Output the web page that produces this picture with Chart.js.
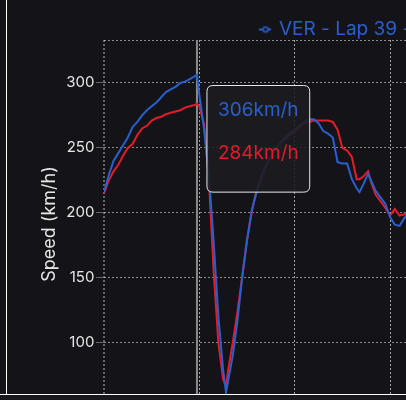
<!DOCTYPE html>
<html>
<head>
<meta charset="utf-8">
<script src="https://cdn.jsdelivr.net/npm/chart.js@4.4.1/dist/chart.umd.min.js"></script>
<style>
  html, body { margin: 0; padding: 0; background: #19181d; }
  #panel { position: absolute; left: 0; top: 0; width: 406px; height: 394px; overflow: hidden; background: #141318; }
  #box { position: absolute; left: 8px; top: 0; width: 945px; height: 443px; }
  #rule-v { position: absolute; left: 6px; top: 0; width: 1px; height: 394px; background: #fff; }
  #rule-h { position: absolute; left: 0; top: 394px; width: 406px; height: 1px; background: #fff; }
</style>
</head>
<body>
<div id="panel"><div id="box"><canvas id="speedChart"></canvas></div></div>
<div id="rule-v"></div>
<div id="rule-h"></div>
<script>
// distance along the lap (m) and speed traces (km/h)
const distance = [
  0, 5, 10, 15, 20, 25, 30, 35, 40, 45,
  50, 55, 60, 65, 70, 75, 80, 85, 90, 95,
  97.5, 100, 105, 110, 115, 120, 125, 128, 130, 135,
  140, 145, 150, 155, 160, 165, 170, 175, 180, 185,
  190, 195, 200, 205, 210, 215, 220, 225, 230, 235,
  240, 245, 250, 255, 260, 265, 268, 272, 277, 280,
  285, 290, 295, 300, 305, 310, 315, 320, 325, 330
];
const verSpeed = [
  216, 229, 240, 246, 252, 258, 266, 270, 275, 279,
  282, 285, 289, 293, 295, 297, 300, 301, 303, 305,
  306, 291, 264, 229, 178, 120, 79, 62, 70, 90,
  117, 151, 179, 202, 216, 228, 237, 243, 249, 254,
  258, 261, 264, 267, 270, 272, 272, 269, 263, 261,
  258, 239, 238, 238, 226, 219, 216, 222, 230, 225,
  217, 212, 207, 197, 191, 190, 196, 201, 205, 208
];
const lecSpeed = [
  215, 225, 232, 237, 244, 250, 253, 260, 265, 267,
  271, 273, 274, 276, 277, 278, 279, 281, 282, 283,
  284, 282, 268, 226, 155, 100, 72, 67, 78, 100,
  124, 151, 179, 201, 217, 227, 236, 243, 249, 254,
  257, 260, 263, 266, 269, 270, 271, 271, 271, 271,
  270, 264, 250, 248, 243, 226, 226, 228, 232, 224,
  214, 209, 204, 198, 203, 198, 199, 201, 203, 205
];
const speedTicks = [50, 100, 150, 200, 250, 300, 333];
const hoverDistance = 97.5;

const BLUE = '#2a5fce';
const RED = '#e51b2a';
const BG = '#141318';

Chart.defaults.font.family = 'Inter';
Chart.defaults.color = '#e6e6e6';

// little "-o-" marker for the legend
function marker(color) {
    var c = document.createElement('canvas');
    c.width = 12; c.height = 8;
    var g = c.getContext('2d');
    g.strokeStyle = color;
    g.lineWidth = 2;
    g.beginPath(); g.moveTo(0, 4); g.lineTo(12, 4); g.stroke();
    g.fillStyle = BG;
    g.lineWidth = 1.5;
    g.beginPath(); g.arc(7, 4, 2.5, 0, Math.PI * 2); g.fill(); g.stroke();
    return c;
}

Chart.Tooltip.positioners.pinned = function (items, pos) {
    if (!items.length) return false;
    return { x: items[0].element.x, y: pos.y };
};

// grey vertical line at the hovered sample
const hoverLine = {
    id: 'hoverLine',
    beforeDatasetsDraw(chart) {
        var act = chart.tooltip.getActiveElements();
        if (!act.length) return;
        var x = act[0].element.x;
        var ctx = chart.ctx;
        ctx.save();
        ctx.strokeStyle = '#8a8a8a';
        ctx.lineWidth = 2;
        ctx.beginPath();
        ctx.moveTo(x, chart.chartArea.top);
        ctx.lineTo(x, chart.chartArea.bottom);
        ctx.stroke();
        ctx.restore();
    }
};

const chart = new Chart(document.getElementById('speedChart'), {
    type: 'line',
    data: {
        labels: distance,
        datasets: [
            { label: 'VER - Lap 39 - 1:35.041', data: verSpeed, borderColor: BLUE, backgroundColor: BLUE },
            { label: 'LEC - Lap 39 - 1:35.612', data: lecSpeed, borderColor: RED, backgroundColor: RED }
        ]
    },
    options: {
        responsive: true,
        maintainAspectRatio: false,
        animation: false,
        events: [],
        layout: { padding: { top: 19, left: 27, right: 10, bottom: 3 } },
        elements: {
            line: { borderWidth: 2, tension: 0 },
            point: { radius: 0, hoverRadius: 0 }
        },
        interaction: { mode: 'index', intersect: false },
        scales: {
            x: {
                type: 'linear',
                min: 0,
                max: 880,
                ticks: { stepSize: 100, includeBounds: false, font: { size: 15 } },
                grid: {
                    color: function (c) { return c.index === 0 ? '#666' : 'rgba(255,255,255,0.6)'; },
                    lineWidth: function (c) { return c.index === 0 ? 2 : 1; },
                    tickLength: 8
                },
                border: { display: false, dash: [2, 2] }
            },
            y: {
                min: 50,
                max: 333,
                afterBuildTicks: function (axis) {
                    axis.ticks = speedTicks.map(function (v) { return { value: v }; });
                },
                ticks: {
                    font: { size: 15 },
                    padding: 1.6,
                    callback: function (v) { return v % 50 === 0 ? v : ''; }
                },
                grid: {
                    color: 'rgba(255,255,255,0.5)',
                    tickColor: function (c) { return c.tick && c.tick.value % 50 !== 0 ? 'transparent' : '#666'; },
                    tickLength: 8
                },
                border: { display: false, dash: [2, 2] },
                title: { display: true, text: 'Speed (km/h)', font: { size: 18 } }
            }
        },
        plugins: {
            legend: {
                position: 'top',
                maxHeight: 21,
                labels: {
                    usePointStyle: true,
                    boxWidth: 10,
                    boxHeight: 8,
                    padding: 1,
                    font: { size: 19 },
                    generateLabels: function (chart) {
                        return Chart.defaults.plugins.legend.labels.generateLabels(chart).map(function (item) {
                            var c = chart.data.datasets[item.datasetIndex].borderColor;
                            item.pointStyle = marker(c);
                            item.fontColor = c;
                            return item;
                        });
                    }
                }
            },
            tooltip: {
                position: 'pinned',
                xAlign: 'left',
                yAlign: 'center',
                caretSize: 0,
                caretPadding: 10,
                backgroundColor: 'rgba(28,29,32,0.88)',
                borderColor: '#e8e8e8',
                borderWidth: 1,
                cornerRadius: 6,
                padding: { top: 13, bottom: 27, left: 11, right: 11 },
                bodySpacing: 21,
                displayColors: false,
                bodyFont: { size: 19 },
                callbacks: {
                    title: function () { return ''; },
                    label: function (c) { return c.parsed.y + 'km/h'; },
                    labelTextColor: function (c) { return c.dataset.borderColor; }
                }
            }
        }
    },
    plugins: [hoverLine]
});

// pin the tooltip on the hovered sample
var idx = distance.indexOf(hoverDistance);
var active = [0, 1].map(function (i) { return { datasetIndex: i, index: idx }; });
chart.setActiveElements(active);
chart.tooltip.setActiveElements(active, {
    x: chart.scales.x.getPixelForValue(hoverDistance),
    y: chart.scales.y.getPixelForValue(257)
});
chart.update();
</script>
</body>
</html>
